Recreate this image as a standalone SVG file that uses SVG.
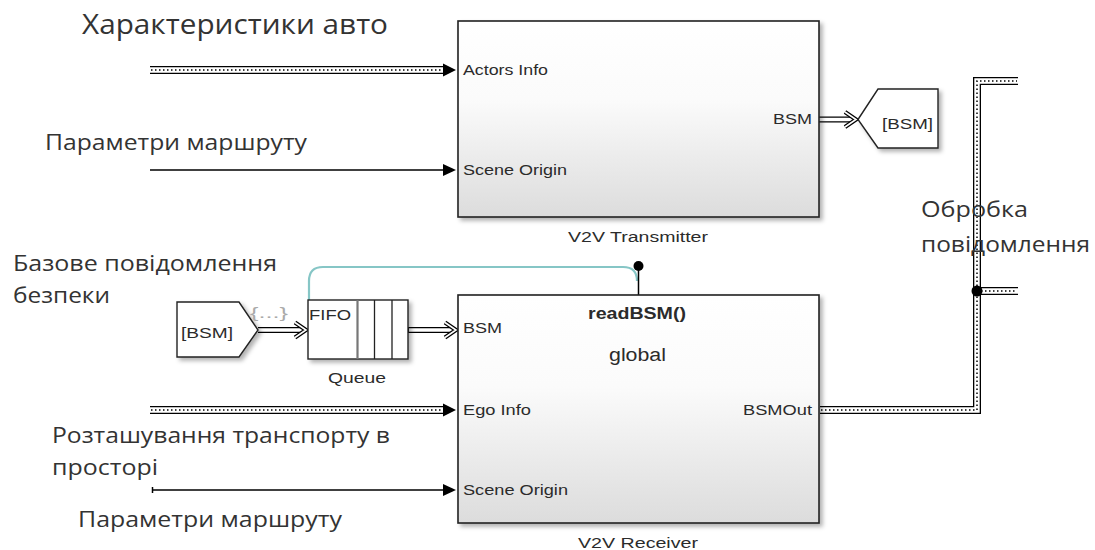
<svg xmlns="http://www.w3.org/2000/svg" width="1095" height="550" viewBox="0 0 1095 550">
<defs>
<linearGradient id="boxGrad" x1="0" y1="0" x2="0" y2="1">
<stop offset="0" stop-color="#ffffff"/>
<stop offset="0.4" stop-color="#fbfbfb"/>
<stop offset="1" stop-color="#dcdcdc"/>
</linearGradient>
<filter id="shadow" x="-10%" y="-10%" width="130%" height="130%">
<feDropShadow dx="3" dy="3" stdDeviation="2" flood-color="#000" flood-opacity="0.3"/>
</filter>
<style>
.box{fill:url(#boxGrad);stroke:#222;stroke-width:1.6;filter:url(#shadow)}
.wbox{fill:#fff;stroke:#222;stroke-width:1.4;filter:url(#shadow)}
.sl{font-family:"Liberation Sans",Arial,sans-serif;fill:#2b2b2b}
.port{font-size:14px}
.cy{font-family:"Open Sans","Noto Sans","DejaVu Sans",sans-serif;fill:#333}
.bo{fill:none;stroke:#000;stroke-width:8}
.bi{fill:none;stroke:#fff;stroke-width:5.4}
.bd{fill:none;stroke:#000;stroke-width:1.5;stroke-dasharray:1.5 2.5}
.ln{fill:none;stroke:#000;stroke-width:1.5}
.do{fill:none;stroke:#000;stroke-width:6}
.di{fill:none;stroke:#fff;stroke-width:3.4}
.cho{fill:none;stroke:#000;stroke-width:4.2;stroke-linejoin:miter}
.chi{fill:none;stroke:#fff;stroke-width:1.6;stroke-linejoin:miter}
.ah{fill:#000}
</style>
</defs>
<rect width="1095" height="550" fill="#fff"/>

<g id="connectors">
<!-- Actors Info bus -->
<path class="bo" d="M150,70 H446"/><path class="bi" d="M150,70 H446"/><path class="bd" d="M151,70 H445"/>
<polygon class="ah" points="443,63.5 456,70 443,76.5"/>
<!-- Scene Origin (transmitter) -->
<path class="ln" d="M150,170 H446"/>
<polygon class="ah" points="443,164 456,170 443,176"/>
<!-- BSM out to Goto -->
<path class="do" d="M819,119.5 H852"/><path class="di" d="M819,119.5 H853"/>
<path class="cho" d="M845,112 L856,119.5 L845,127"/><path class="chi" d="M845,112 L856,119.5 L845,127"/>
<!-- From to Queue -->
<path class="do" d="M258,330 H302"/><path class="di" d="M257,330 H303"/>
<path class="cho" d="M295,322.5 L306,330 L295,337.5"/><path class="chi" d="M295,322.5 L306,330 L295,337.5"/>
<!-- Queue to BSM -->
<path class="do" d="M408,330 H452"/><path class="di" d="M409,330 H453"/>
<path class="cho" d="M445,322.5 L456,330 L445,337.5"/><path class="chi" d="M445,322.5 L456,330 L445,337.5"/>
<!-- Ego Info bus -->
<path class="bo" d="M150,410 H446"/><path class="bi" d="M150,410 H446"/><path class="bd" d="M151,410 H445"/>
<polygon class="ah" points="443,403.5 456,410 443,416.5"/>
<!-- Scene Origin (receiver) -->
<path class="ln" d="M152,490 H446"/><path class="ln" d="M152.5,487 V493"/>
<polygon class="ah" points="443,484 456,490 443,496"/>
<!-- BSMOut bus -->
<path class="bo" d="M820,410 H977 V81 H1018"/><path class="bo" d="M977,291 H1018"/>
<path class="bi" d="M820,410 H977 V81 H1018"/><path class="bi" d="M977,291 H1018"/>
<path class="bd" d="M821,410 H977 V81 H1017"/><path class="bd" d="M981,291 H1017"/>
<circle cx="977" cy="291" r="5.5" fill="#000"/>
<!-- function-call trigger -->
<path d="M309,300 V281 Q309,267 323,267 H623 Q637,267 637,281" fill="none" stroke="#86c6c6" stroke-width="2.2"/>
<path class="ln" d="M638.5,266 V295"/>
<circle cx="638.5" cy="266" r="5" fill="#000"/>
</g>

<g id="v2v-transmitter">
<rect class="box" x="458" y="21" width="361" height="196"/>
<text class="sl port" x="463" y="75" textLength="85" lengthAdjust="spacingAndGlyphs">Actors Info</text>
<text class="sl port" x="463" y="175" textLength="104" lengthAdjust="spacingAndGlyphs">Scene Origin</text>
<text class="sl port" x="773" y="124" textLength="39" lengthAdjust="spacingAndGlyphs">BSM</text>
<text class="sl" x="568" y="242" font-size="14" textLength="140" lengthAdjust="spacingAndGlyphs">V2V Transmitter</text>
</g>

<g id="v2v-receiver">
<rect class="box" x="458" y="295" width="361" height="228"/>
<text class="sl" x="588" y="319" font-size="16" font-weight="bold" textLength="98" lengthAdjust="spacingAndGlyphs">readBSM()</text>
<text class="sl" x="609" y="361" font-size="18" textLength="57" lengthAdjust="spacingAndGlyphs">global</text>
<text class="sl port" x="463" y="333" textLength="39" lengthAdjust="spacingAndGlyphs">BSM</text>
<text class="sl port" x="463" y="415" textLength="68" lengthAdjust="spacingAndGlyphs">Ego Info</text>
<text class="sl port" x="463" y="495" textLength="105" lengthAdjust="spacingAndGlyphs">Scene Origin</text>
<text class="sl port" x="743" y="415" textLength="69" lengthAdjust="spacingAndGlyphs">BSMOut</text>
<text class="sl" x="578" y="548" font-size="14" textLength="120" lengthAdjust="spacingAndGlyphs">V2V Receiver</text>
</g>

<g id="goto-bsm">
<polygon class="wbox" points="858,119.5 878,89 938,89 938,148 878,148"/>
<text class="sl" x="882" y="129" font-size="15" textLength="51" lengthAdjust="spacingAndGlyphs">[BSM]</text>
</g>

<g id="from-bsm">
<polygon class="wbox" points="177,302 239,302 258,330 239,357 177,357"/>
<text class="sl" x="181" y="338" font-size="15" textLength="52" lengthAdjust="spacingAndGlyphs">[BSM]</text>
<text class="sl" x="250" y="318" font-size="15" style="fill:#aaa" textLength="38" lengthAdjust="spacingAndGlyphs">{...}</text>
</g>

<g id="queue">
<rect class="wbox" x="308" y="300" width="100" height="59"/>
<path d="M357.5,300 V359" stroke="#777" stroke-width="2.2" fill="none"/>
<path d="M374.5,300 V359 M392,300 V359" stroke="#222" stroke-width="1.3" fill="none"/>
<text class="sl" x="309" y="320" font-size="14" textLength="42" lengthAdjust="spacingAndGlyphs">FIFO</text>
<text class="sl" x="328" y="383" font-size="14" textLength="58" lengthAdjust="spacingAndGlyphs">Queue</text>
</g>

<g id="annotations">
<text class="cy" x="82" y="34" font-size="27" textLength="306" lengthAdjust="spacingAndGlyphs">Характеристики авто</text>
<text class="cy" x="45" y="150" font-size="21.5" textLength="262" lengthAdjust="spacingAndGlyphs">Параметри маршруту</text>
<text class="cy" x="13" y="271" font-size="21.5" textLength="264" lengthAdjust="spacingAndGlyphs">Базове повідомлення</text>
<text class="cy" x="13" y="303" font-size="21.5" textLength="97" lengthAdjust="spacingAndGlyphs">безпеки</text>
<text class="cy" x="52" y="443" font-size="21.5" textLength="338" lengthAdjust="spacingAndGlyphs">Розташування транспорту в</text>
<text class="cy" x="52" y="475" font-size="21.5" textLength="106" lengthAdjust="spacingAndGlyphs">просторі</text>
<text class="cy" x="78" y="527" font-size="21.5" textLength="264" lengthAdjust="spacingAndGlyphs">Параметри маршруту</text>
<text class="cy" x="921" y="217" font-size="21.5" textLength="107" lengthAdjust="spacingAndGlyphs">Обробка</text>
<text class="cy" x="921" y="252" font-size="21.5" textLength="169" lengthAdjust="spacingAndGlyphs">повідомлення</text>
</g>
</svg>
